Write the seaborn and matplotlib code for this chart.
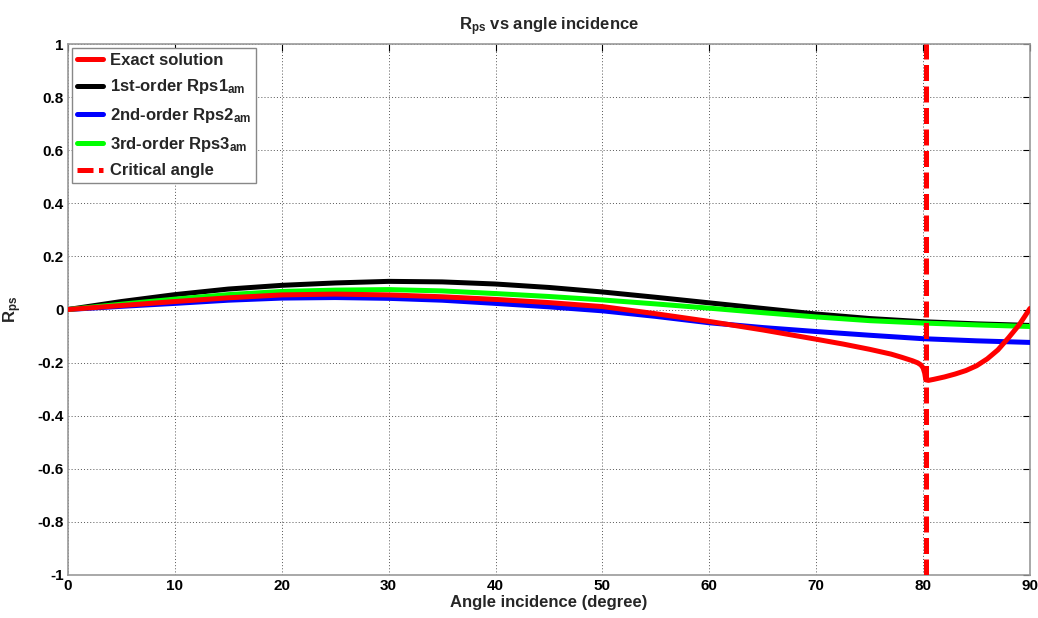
import matplotlib
matplotlib.use("Agg")
import matplotlib.pyplot as plt
import seaborn as sns
import numpy as np
import pandas as pd
from matplotlib.lines import Line2D

# ---------------- data ----------------
angles = [0, 5, 10, 15, 20, 25, 30, 35, 40, 45, 50, 55, 60, 65, 70, 75, 80, 85, 90]
rps1_am = [0.0, 0.030, 0.056, 0.077, 0.091, 0.100, 0.106, 0.104, 0.096, 0.083, 0.066,
           0.046, 0.025, 0.004, -0.017, -0.034, -0.046, -0.054, -0.060]
rps2_am = [0.0, 0.012, 0.023, 0.035, 0.043, 0.045, 0.042, 0.035, 0.023, 0.010, -0.005,
           -0.026, -0.050, -0.068, -0.083, -0.097, -0.110, -0.118, -0.124]
rps3_am = [0.0, 0.020, 0.039, 0.056, 0.068, 0.073, 0.075, 0.070, 0.060, 0.049, 0.036,
           0.021, 0.005, -0.012, -0.028, -0.042, -0.051, -0.058, -0.064]

exact_angles = [0, 5, 10, 15, 20, 25, 30, 35, 40, 45, 50, 55, 60, 65, 70, 72.5, 75, 77,
                78, 79, 79.5, 79.8, 80.0, 80.15, 80.25, 80.5, 81, 82, 83, 84, 85, 86,
                87, 88, 89, 90]
exact = [0.0, 0.015, 0.030, 0.044, 0.055, 0.058, 0.055, 0.048, 0.038, 0.026, 0.011,
         -0.016, -0.045, -0.077, -0.112, -0.130, -0.150, -0.168, -0.180, -0.193, -0.201,
         -0.209, -0.220, -0.240, -0.265, -0.267, -0.263, -0.254, -0.243, -0.230, -0.212,
         -0.186, -0.152, -0.106, -0.057, 0.004]

critical_angle = 80.25
x_ticks = [0, 10, 20, 30, 40, 50, 60, 70, 80, 90]
y_ticks = [-1, -0.8, -0.6, -0.4, -0.2, 0, 0.2, 0.4, 0.6, 0.8, 1]

# ---------------- style ----------------
sns.set_style("white")
plt.rcParams["font.family"] = ["Liberation Sans", "DejaVu Sans"]
plt.rcParams["font.weight"] = "bold"
plt.rcParams["axes.unicode_minus"] = False
plt.rcParams["mathtext.fontset"] = "custom"
plt.rcParams["mathtext.rm"] = "Liberation Sans:bold"
plt.rcParams["mathtext.bf"] = "Liberation Sans:bold"
plt.rcParams["mathtext.it"] = "Liberation Sans:bold"
plt.rcParams["mathtext.default"] = "rm"

W, H = 1038, 618
fig = plt.figure(figsize=(W / 100, H / 100), dpi=100)
ax = fig.add_axes([68 / W, 1 - 575 / H, 962 / W, 531 / H])

lw = 3.6
df_main = pd.DataFrame({"angle": angles, "r1": rps1_am, "r2": rps2_am, "r3": rps3_am})
df_exact = pd.DataFrame({"angle": exact_angles, "exact": exact})

sns.lineplot(data=df_main, x="angle", y="r1", ax=ax, color="black", lw=lw, zorder=2, sort=False)
sns.lineplot(data=df_main, x="angle", y="r2", ax=ax, color="#0000ff", lw=lw, zorder=3, sort=False)
sns.lineplot(data=df_main, x="angle", y="r3", ax=ax, color="#00ff00", lw=lw, zorder=4, sort=False)
sns.lineplot(data=df_exact, x="angle", y="exact", ax=ax, color="#ff0000", lw=lw, zorder=5, sort=False)
ax.axvline(critical_angle, color="#ff0000", lw=lw, dashes=(3.2, 1.1), zorder=6)

ax.set_xlim(0, 90)
ax.set_ylim(-1, 1)
ax.set_xticks(x_ticks)
ax.set_yticks(y_ticks)
ax.set_xticklabels([f"{v:g}" for v in x_ticks])
ax.set_yticklabels([f"{v:g}" for v in y_ticks])
ax.tick_params(direction="in", length=5, width=0.8, top=True, right=True,
               labelsize=11, colors="#000000", pad=3)
for lab in ax.get_xticklabels() + ax.get_yticklabels():
    lab.set_fontweight("bold")

ax.grid(True, color="#555555", linestyle=(0, (1, 2.2)), lw=0.7)
for sp in ax.spines.values():
    sp.set_color("#999999")
    sp.set_linewidth(1.2)
    sp.set_visible(True)

ax.set_xlabel("Angle incidence (degree)", fontsize=12, fontweight="bold", labelpad=1)
ax.set_ylabel(r"R$_{ps}$", fontsize=12, fontweight="bold", labelpad=10)
ax.set_title(r"R$_{ps}$ vs angle incidence", fontsize=12, fontweight="bold", pad=10)

handles = [
    Line2D([], [], color="#ff0000", lw=lw),
    Line2D([], [], color="black", lw=lw),
    Line2D([], [], color="#0000ff", lw=lw),
    Line2D([], [], color="#00ff00", lw=lw),
    Line2D([], [], color="#ff0000", lw=lw, dashes=(3.2, 1.1)),
]
labels = ["Exact solution", r"1st-order Rps1$_{am}$", r"2nd-order Rps2$_{am}$",
          r"3rd-order Rps3$_{am}$", "Critical angle"]
leg = ax.legend(handles, labels, loc="upper left", bbox_to_anchor=(0.004, 0.993),
                borderaxespad=0, fancybox=False, framealpha=1, edgecolor="#888888",
                prop={"weight": "bold", "size": 12}, handlelength=1.55,
                handletextpad=0.45, labelspacing=0.58, borderpad=0.3)
leg.get_frame().set_linewidth(1.0)

fig.savefig("out.png", dpi=100, facecolor="white")
